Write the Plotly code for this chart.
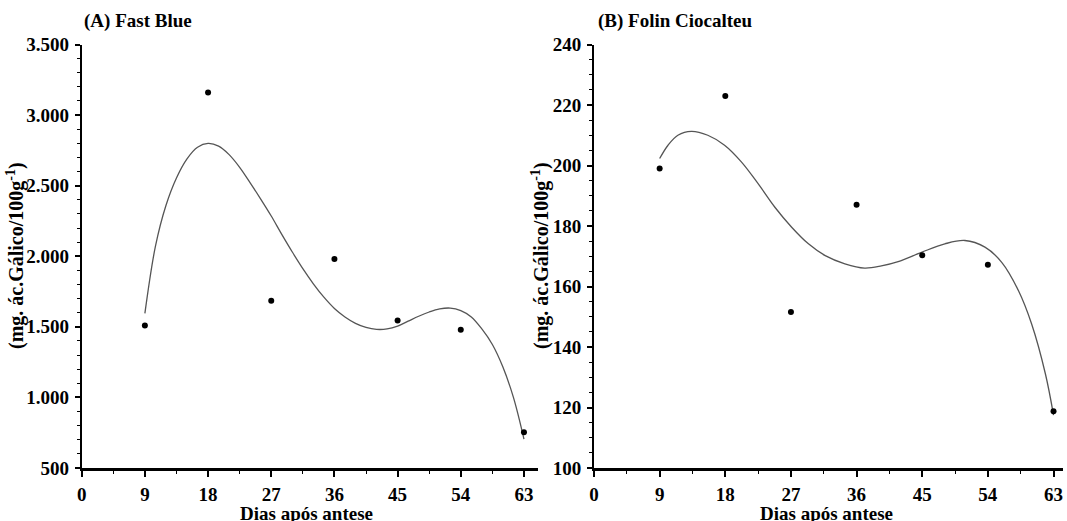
import plotly.graph_objects as go

# ---------------- data ----------------
days = [9, 18, 27, 36, 45, 54, 63]
fast_blue = [1510, 3160, 1685, 1980, 1545, 1480, 753]
folin = [199.0, 223.0, 151.6, 187.0, 170.3, 167.2, 118.8]

# trend curves
fb_trend_x = [9.0, 10.5, 12.0, 13.5, 15.0, 16.5, 18.0, 19.5, 21.0, 22.5, 24.0, 25.5,
              27.0, 28.5, 30.0, 31.5, 33.0, 34.5, 36.0, 37.5, 39.0, 40.5, 42.0, 43.5,
              45.0, 46.5, 48.0, 49.5, 51.0, 52.5, 54.0, 55.5, 57.0, 58.5, 60.0, 61.5, 63.0]
fb_trend_y = [1595, 2070, 2360, 2555, 2690, 2772, 2799, 2780, 2720, 2630, 2520, 2405,
              2285, 2155, 2030, 1912, 1805, 1710, 1630, 1570, 1525, 1496, 1482, 1485,
              1505, 1540, 1575, 1605, 1627, 1633, 1615, 1570, 1485, 1375, 1215, 1000, 705]

fc_trend_x = [9.0, 10.15, 11.5, 13.35, 15.6, 17.9, 20.2, 22.5, 24.8, 27.1, 29.4, 31.7,
              34.4, 37.1, 39.4, 41.7, 44.9, 48.1, 50.85, 53.6, 55.9, 58.2, 60.0, 61.9, 63.0]
fc_trend_y = [202.3, 206.7, 210.0, 211.3, 210.0, 206.7, 201.2, 194.0, 186.2, 179.6, 174.1, 170.2,
              167.5, 166.1, 166.8, 168.2, 171.3, 174.1, 175.2, 173.0, 168.0, 158.6, 147.6, 131.0, 117.5]

x_tick_vals = [0, 9, 18, 27, 36, 45, 54, 63]
x_tick_text = ["0", "9", "18", "27", "36", "45", "54", "63"]
fb_tick_vals = [500, 1000, 1500, 2000, 2500, 3000, 3500]
fb_tick_text = ["500", "1.000", "1.500", "2.000", "2.500", "3.000", "3.500"]
fc_tick_vals = [100, 120, 140, 160, 180, 200, 220, 240]
fc_tick_text = ["100", "120", "140", "160", "180", "200", "220", "240"]

title_a = "(A) Fast Blue"
title_b = "(B) Folin Ciocalteu"
x_title = "Dias após antese"
y_title = "(mg. ác.Gálico/100g<sup>-1</sup>)"

# ---------------- figure ----------------
W, H = 1067, 521
FONT = "Liberation Serif"
line_col = "#555555"

fig = go.Figure()
fig.add_trace(go.Scatter(x=fb_trend_x, y=fb_trend_y, mode="lines",
                         line=dict(color=line_col, width=1.3, shape="spline", smoothing=1.0),
                         xaxis="x", yaxis="y", hoverinfo="skip"))
fig.add_trace(go.Scatter(x=days, y=fast_blue, mode="markers", marker=dict(color="black", size=6),
                         xaxis="x", yaxis="y"))
fig.add_trace(go.Scatter(x=fc_trend_x, y=fc_trend_y, mode="lines",
                         line=dict(color=line_col, width=1.3, shape="spline", smoothing=1.0),
                         xaxis="x2", yaxis="y2", hoverinfo="skip"))
fig.add_trace(go.Scatter(x=days, y=folin, mode="markers", marker=dict(color="black", size=6),
                         xaxis="x2", yaxis="y2"))

tickfont = dict(family=FONT, size=19, color="black", weight="bold")

def xax(domain, rng, anchor):
    return dict(domain=domain, range=rng, anchor=anchor, automargin=False,
                showgrid=False, zeroline=False,
                showline=True, linecolor="black", linewidth=2.5,
                tickmode="array", tickvals=x_tick_vals, ticktext=x_tick_text,
                ticks="outside", ticklen=6, tickwidth=1.5, tickcolor="black",
                ticklabelstandoff=1, tickfont=tickfont,
                minor=dict(tickmode="linear", tick0=0, dtick=4.5, ticks="outside", ticklen=3,
                           tickwidth=1.2, tickcolor="black"))

def yax(domain, rng, anchor, vals, text, mdt):
    return dict(domain=domain, range=rng, anchor=anchor, automargin=False,
                showgrid=False, zeroline=False,
                showline=True, linecolor="black", linewidth=2,
                tickmode="array", tickvals=vals, ticktext=text,
                ticks="outside", ticklen=5, tickwidth=1.5, tickcolor="black",
                ticklabelstandoff=2, tickfont=tickfont,
                minor=dict(tickmode="linear", tick0=rng[0], dtick=mdt, ticks="outside", ticklen=3,
                           tickwidth=1.2, tickcolor="black"))

ydom = [53 / H, 476.5 / H]
fig.update_layout(
    width=W, height=H, margin=dict(l=0, r=0, t=0, b=0, autoexpand=False),
    paper_bgcolor="white", plot_bgcolor="white", showlegend=False,
    xaxis=xax([81.7 / W, 538 / W], [0, 65], "y"),
    yaxis=yax(ydom, [500, 3500], "x", fb_tick_vals, fb_tick_text, 100),
    xaxis2=xax([594 / W, 1063 / W], [0, 64.3], "y2"),
    yaxis2=yax(ydom, [100, 240], "x2", fc_tick_vals, fc_tick_text, 5),
)

afont = dict(family=FONT, size=19, color="black")
yfont = dict(family=FONT, size=20, color="black")
ann = [
    dict(text="<b>" + title_a + "</b>", x=82 / W, y=1 - 21 / H, xanchor="left", yanchor="middle", font=afont),
    dict(text="<b>" + title_b + "</b>", x=596 / W, y=1 - 21 / H, xanchor="left", yanchor="middle", font=afont),
    dict(text="<b>" + x_title + "</b>", x=306 / W, y=1 - 513 / H, xanchor="center", yanchor="middle", font=afont),
    dict(text="<b>" + x_title + "</b>", x=826 / W, y=1 - 513 / H, xanchor="center", yanchor="middle", font=afont),
    dict(text="<b>" + y_title + "</b>", x=15 / W, y=1 - 256 / H, xanchor="center", yanchor="middle",
         textangle=-90, font=yfont),
    dict(text="<b>" + y_title + "</b>", x=540 / W, y=1 - 256 / H, xanchor="center", yanchor="middle",
         textangle=-90, font=yfont),
]
for a in ann:
    a.update(xref="paper", yref="paper", showarrow=False)
fig.update_layout(annotations=ann)

fig.write_html("out.html")
